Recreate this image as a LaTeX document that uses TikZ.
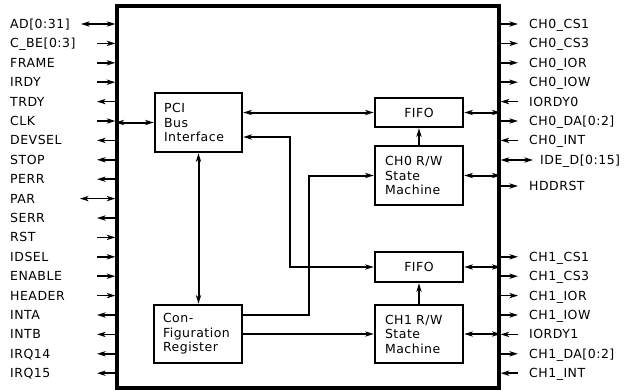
\documentclass[tikz,border=0pt]{standalone}
\usepackage{fontspec}
\setmainfont{DejaVu Sans}[LetterSpace=4]
\usetikzlibrary{arrows.meta}
\begin{document}
\begin{tikzpicture}[x=1pt,y=-1pt,
  font=\fontsize{12.5}{14.5}\selectfont,
  tp/.tip={Stealth[length=8.5pt,width=5.2pt,inset=2.2pt]},
  pinline/.style={line width=1.6pt},
  pini/.style={pinline,-tp},
  pino/.style={pinline,tp-},
  pinb/.style={pinline,tp-tp},
  box/.style={draw,line width=2.6pt,inner sep=0pt,align=left},
  link/.style={line width=2pt},
  lbl/.style={anchor=base west,inner sep=0pt}]
\useasboundingbox (0,0) rectangle (633,391);
\fill[white] (0,0) rectangle (633,391);
% main chip outline
\node[draw,line width=3.2pt,minimum width=382pt,minimum height=382pt,inner sep=0pt] (chip) at (308,197) {};
% internal blocks
\node[box,minimum width=87pt,minimum height=59pt,text width=69pt] (PCI) at (198.5,122.5) {PCI\\Bus\\Interface};
\node[box,minimum width=88pt,minimum height=58pt,text width=70pt] (CFG) at (198,334) {Con-\\Figuration\\Register};
\node[box,minimum width=88pt,minimum height=29pt,align=center] (FIFO0) at (419,112.5) {FIFO};
\node[box,minimum width=88pt,minimum height=59pt,text width=68pt] (SM0) at (419,175.5) {CH0 R/W\\State\\Machine};
\node[box,minimum width=88pt,minimum height=30pt,align=center] (FIFO1) at (419,267) {FIFO};
\node[box,minimum width=88pt,minimum height=58pt,text width=68pt] (SM1) at (419,334) {CH1 R/W\\State\\Machine};
% internal connections
\draw[link,tp-tp] (PCI.west -| chip.west) -- (PCI.west);
\draw[link,tp-tp] (PCI.east |- FIFO0.west) -- (FIFO0.west);
\draw[link,tp-tp] (FIFO0.east) -- (FIFO0.east -| chip.east);
\draw[link,tp-tp] (SM0.east) -- (SM0.east -| chip.east);
\draw[link,-tp] (SM0.north) -- (FIFO0.south);
\draw[link,tp-tp] (PCI.south) -- (PCI.south |- CFG.north);
\coordinate (j1) at (290,267);
\draw[link,tp-tp] (PCI.east |- 0,137) -| (j1) -- (FIFO1.west);
\coordinate (j2) at (SM0.west -| 309,0);
\draw[link,-tp] (CFG.east |- 0,315) -| (j2) -- (SM0.west);
\draw[link,-tp] (CFG.east) -- (SM1.west);
\draw[link,-tp] (SM1.north) -- (FIFO1.south);
\draw[link,tp-tp] (FIFO1.east) -- (FIFO1.east -| chip.east);
\draw[link,tp-tp] (SM1.east) -- (SM1.east -| chip.east);
% left pins
\foreach \t/\d/\xo/\yy [count=\i] in {
  {AD[0:31]}/b/81/24, {C\_BE[0:3]}/i/97/43.4, FRAME/i/97/62.8, IRDY/i/97/82.2,
  TRDY/o/97/101.6, CLK/i/97/121, DEVSEL/o/97/140.4, STOP/o/97/159.8,
  PERR/o/97/179.2, PAR/b/80/198.6, SERR/o/97/218, RST/i/97/237.4,
  IDSEL/i/97/256.8, ENABLE/i/97/276.2, HEADER/i/97/295.6, INTA/o/97/315,
  INTB/o/97/334.4, IRQ14/o/97/353.8, IRQ15/o/97/373.2}{
  \coordinate (L\i) at (\xo,\yy);
  \draw[pin\d] (L\i) -- (L\i -| chip.west);
  \node[lbl] (lt\i) at (10,\yy+4.5) {\t};
}
% right pins
\foreach \t/\d/\xo/\xl/\yy [count=\i] in {
  {CH0\_CS1}/i/518/529/24, {CH0\_CS3}/i/518/529/43.4, {CH0\_IOR}/i/518/529/62.8,
  {CH0\_IOW}/i/518/529/82.2, IORDY0/o/518/529/101.6, {CH0\_DA[0:2]}/i/518/529/121,
  {CH0\_INT}/o/518/529/140.4, {IDE\_D[0:15]}/b/533/540/160, HDDRST/i/518/529/186,
  {CH1\_CS1}/i/518/529/256.8, {CH1\_CS3}/i/518/529/276.2, {CH1\_IOR}/i/518/529/295.6,
  {CH1\_IOW}/i/518/529/315, IORDY1/o/518/529/334.4, {CH1\_DA[0:2]}/i/518/529/353.8,
  {CH1\_INT}/o/518/529/373.2}{
  \coordinate (R\i) at (\xo,\yy);
  \draw[pin\d] (R\i -| chip.east) -- (R\i);
  \node[lbl] (rt\i) at (\xl,\yy+4.5) {\t};
}
\end{tikzpicture}
\end{document}
